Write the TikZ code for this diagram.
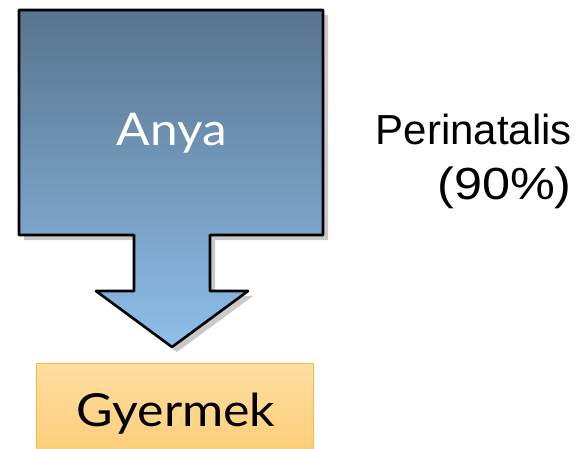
\documentclass[tikz,border=0pt]{standalone}
\usepackage{fontspec}
\setmainfont[FakeStretch=1.1]{Lato}
\newfontfamily\notefont{Liberation Sans}
\newfontfamily\notewide[FakeStretch=1.12]{Liberation Sans}
\usetikzlibrary{shadows, positioning}
\definecolor{momtop}{RGB}{88,116,142}
\definecolor{mombottom}{RGB}{142,190,234}
\definecolor{kidtop}{RGB}{254,222,160}
\definecolor{kidbottom}{RGB}{253,206,122}
\definecolor{kidedge}{RGB}{245,190,50}

\begin{document}
\begin{tikzpicture}[
    x=1pt, y=-1pt,
    callout/.style={draw=black, line width=2.6pt, line join=round, top color=momtop, bottom color=mombottom,
        drop shadow={shadow xshift=5pt, shadow yshift=-5pt, opacity=0.3, fill=black!70}},
    parent/.style={text=white, font=\fontsize{45}{50}\selectfont, anchor=base},
    kidbox/.style={rectangle, draw=kidedge, line width=0.8pt, top color=kidtop, bottom color=kidbottom,
        minimum width=277pt, minimum height=88pt, anchor=north west, inner sep=0pt},
    note/.style={font=\notefont\fontsize{42}{55}\selectfont, align=right, anchor=base east, inner sep=0pt}
]
\useasboundingbox (0,0) rectangle (588,448);

% mother: box with a down arrow
\draw[callout] (19,10) -- (323,10) -- (323,235) -- (210,235) -- (210,291) -- (248,291)
    -- (172,347) -- (96,291) -- (134,291) -- (134,235) -- (19,235) -- cycle;
\node[parent] (mother) at (172,145) {Anya};

% child
\node[kidbox] (child) at (36,363) {};
\node[anchor=base, font=\fontsize{45.5}{50}\selectfont] (childlabel) at (176,426) {Gyermek};

% transmission route (base anchor sits on the last line)
\node[note] (route) at (572,199) {Perinatalis\\{\notewide\fontsize{45}{55}\selectfont(90\%)}};

\end{tikzpicture}
\end{document}
